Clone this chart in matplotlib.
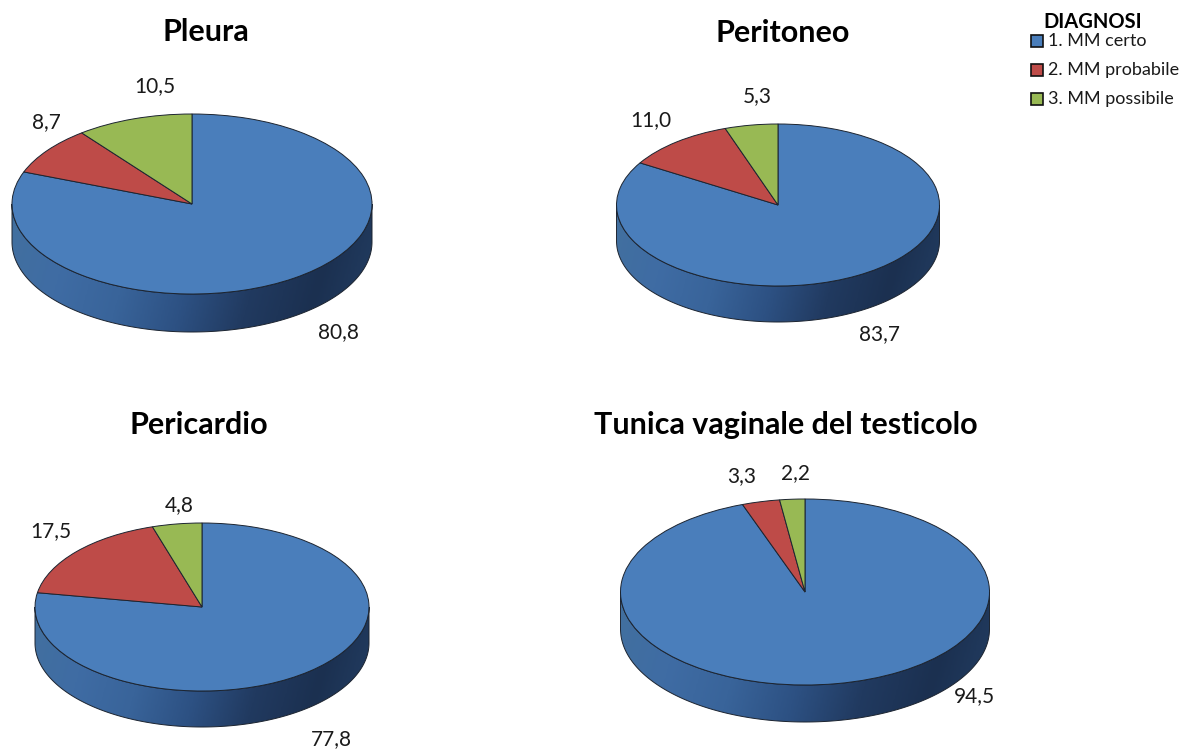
import numpy as np
import matplotlib
matplotlib.use("Agg")
import matplotlib.pyplot as plt
from matplotlib.colors import LinearSegmentedColormap
from matplotlib.patches import Wedge, PathPatch, Rectangle
from matplotlib.path import Path
from matplotlib.transforms import Affine2D

plt.rcParams["font.family"] = ["Lato", "DejaVu Sans"]

# Percentage of cases by diagnostic certainty, for each site
sites = ["Pleura", "Peritoneo", "Pericardio", "Tunica vaginale del testicolo"]
mm_certo = [80.8, 83.7, 77.8, 94.5]
mm_probabile = [8.7, 11.0, 17.5, 3.3]
mm_possibile = [10.5, 5.3, 4.8, 2.2]
legend_title = "DIAGNOSI"
legend_labels = ["1. MM certo", "2. MM probabile", "3. MM possibile"]
colors = ["#4a7ebb", "#be4b48", "#98b954"]
edge = "#1c2430"

# Ellipse centre x, centre y, radii, wall depth
discs = [(192, 204, 180, 90, 38), (778, 205, 161.5, 81, 36),
         (202, 607, 167, 84, 36), (805, 592, 184.5, 93, 37)]
title_pos = [(206, 32), (783, 33), (199, 425), (786, 425)]
label_pos = [[(338, 332), (46, 122), (155, 86)],
             [(880, 334), (651, 120), (757, 96)],
             [(331, 739), (51, 531), (179, 505)],
             [(974, 696), (742, 476), (796, 473)]]

wall_cmap = LinearSegmentedColormap.from_list(
    "wall", ["#42709f", "#3f6ca4", "#39649a", "#2d5183", "#213a60", "#1b3050", "#233e63"])

fig = plt.figure(figsize=(11.85, 7.51), dpi=100)
ax = fig.add_axes([0, 0, 1, 1])
ax.set_xlim(0, 1185)
ax.set_ylim(751, 0)
ax.axis("off")


def draw_pie(values, cx, cy, rx, ry, depth):
    # Side wall: lower half of the rim swept downwards, with a shaded fill
    t = np.linspace(0, np.pi, 200)
    x = cx + rx * np.cos(t)
    y = cy + ry * np.sin(t)
    verts = np.r_[np.c_[x, y + depth], np.c_[x[::-1], y[::-1]], [[x[0], y[0] + depth]]]
    wall = Path(verts, closed=True)
    outline = PathPatch(wall, fc="none", ec=edge, lw=0.7, zorder=3)
    ax.add_patch(outline)
    gx = np.linspace(0, 1, 256)[None, :]
    gy = np.linspace(0, 0.10, 64)[:, None]
    img = ax.imshow(gx + gy, cmap=wall_cmap, vmin=0, vmax=1.1, aspect="auto",
                    extent=(cx - rx, cx + rx, cy + ry + depth, cy), zorder=2)
    img.set_clip_path(outline)

    # Top face, clockwise from twelve o'clock
    frame = Affine2D().scale(rx, -ry).translate(cx, cy) + ax.transData
    start = 90.0
    for value, color in zip(values, colors):
        sweep = 360.0 * value / sum(values)
        ax.add_patch(Wedge((0, 0), 1, start - sweep, start, fc=color, ec=edge,
                           lw=0.7, transform=frame, zorder=4))
        start -= sweep


for i, site in enumerate(sites):
    values = [mm_certo[i], mm_probabile[i], mm_possibile[i]]
    draw_pie(values, *discs[i])
    ax.text(*title_pos[i], site, fontsize=22, fontweight="bold", ha="center",
            va="center", color="#000000")
    for value, (lx, ly) in zip(values, label_pos[i]):
        ax.text(lx, ly, f"{value:.1f}".replace(".", ","), fontsize=15, ha="center",
                va="center", color="#1a1a1a")

# Legend block
ax.text(1093, 22, legend_title, fontsize=14.5, fontweight="bold", ha="center",
        va="center", color="#000000")
for label, color, y in zip(legend_labels, colors, (41, 70, 99)):
    ax.add_patch(Rectangle((1031, y - 6), 12, 12, fc=color, ec="#111111", lw=1.2))
    ax.text(1048, y, label, fontsize=13, ha="left", va="center", color="#1a1a1a")

fig.savefig("out.png", dpi=100, facecolor="white")
